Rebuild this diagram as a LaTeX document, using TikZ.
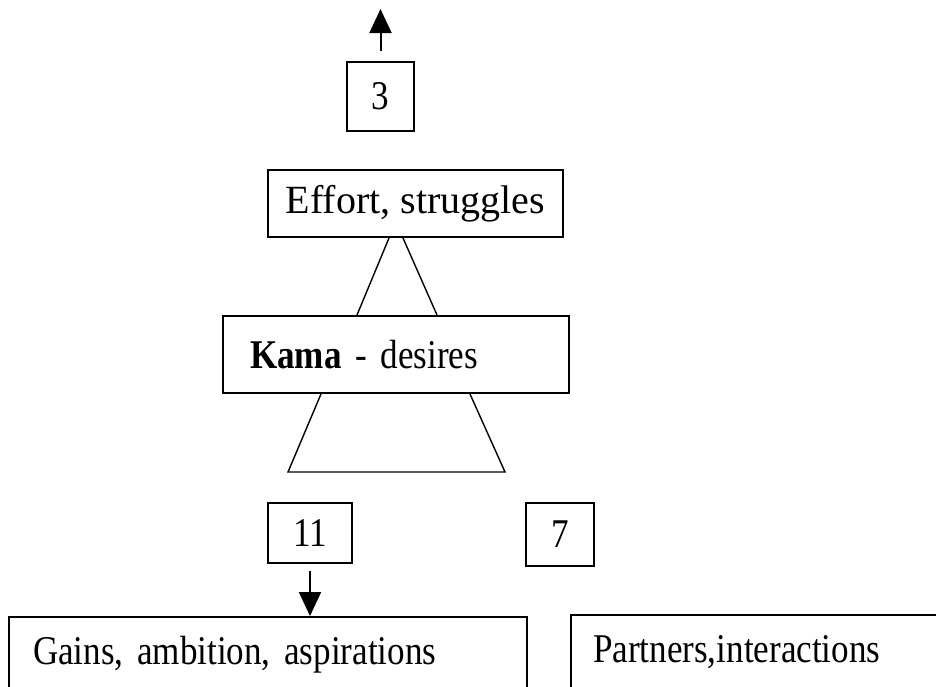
\documentclass[tikz,border=0pt]{standalone}
\usepackage{fontspec}
\setmainfont[FakeStretch=0.86]{Liberation Serif}
\newfontfamily\widefont{Liberation Serif}
\usetikzlibrary{arrows.meta,calc}

\tikzset{
  box/.style={draw, line width=1pt, inner sep=0pt,
    font=\fontsize{20.4}{22}\selectfont},
  leg/.style={line width=0.7pt},
  arr/.style={line width=1pt, -{Triangle[length=12pt,width=11pt]}},
}

\begin{document}
\begin{tikzpicture}[x=0.5pt,y=-0.5pt]
    \clip (0,0) rectangle (936,686);

    \node[box, minimum width=33.5pt, minimum height=34.5pt] (three) at (380.5,96.5) {3};
    \node[box, minimum width=147.5pt, minimum height=33.5pt,
      font=\widefont\fontsize{20}{22}\selectfont] (effort) at (415.5,203.5)
      {Effort, struggles};
    \node[box, text width=146pt, inner xsep=13.5pt, align=left,
      minimum height=38.5pt] (kama) at (396,354.5) {\textbf{Kama} - desires};
    \node[box, minimum width=42pt, minimum height=30pt] (eleven) at (310,533) {11};
    \node[box, minimum width=34pt, minimum height=31.5pt] (seven) at (560,534.5) {7};
    \node[box, text width=235pt, inner xsep=12pt, align=left,
      minimum height=38pt] (gains) at (268,655) {Gains, ambition, aspirations};
    \node[box, text width=192.5pt, inner xsep=11pt, align=left,
      minimum height=37pt] (partners) at (785.5,652) {Partners,interactions};

    % arrows
    \coordinate (top) at (380.5,9);
    \draw[arr, shorten <=5pt] (three) -- (top);
    \draw[arr, shorten <=3.5pt] (eleven) -- (gains.north -| eleven);

    % upper and lower trapezoid
    \draw[leg] ($(effort.south)+(-26.5,0)$) -- ($(kama.north)+(-39,0)$);
    \draw[leg] ($(effort.south)+(-12.5,0)$) -- ($(kama.north)+(41,0)$);
    \coordinate (baseL) at (288,472);
    \coordinate (baseR) at (505,472);
    \draw[leg] ($(kama.south)+(-75,0)$) -- (baseL) -- (baseR)
      -- ($(kama.south)+(74,0)$);
  \end{tikzpicture}
\end{document}
